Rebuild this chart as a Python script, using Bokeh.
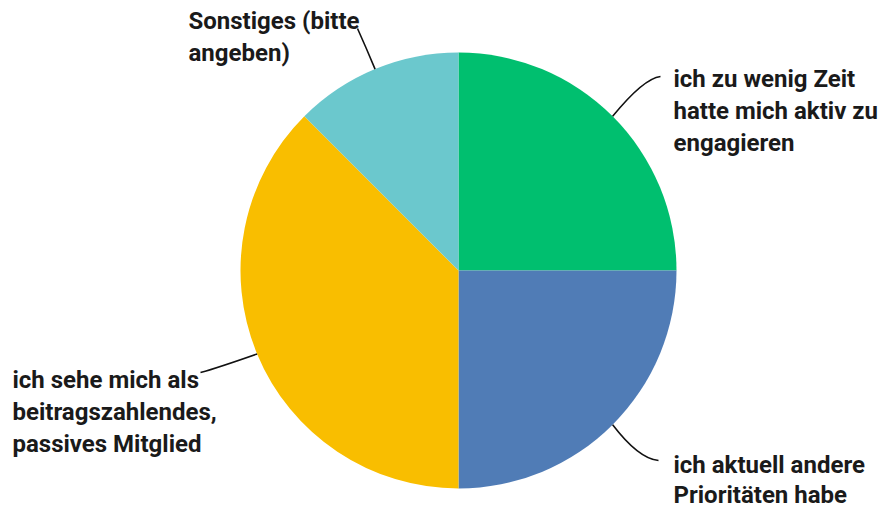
import math
from bokeh.plotting import figure
from bokeh.models import Range1d
from bokeh.embed import file_html
from bokeh.resources import INLINE
from bokeh.core.properties import value

# ---- data ----
categories = [
    "ich zu wenig Zeit\nhatte mich aktiv zu\nengagieren",
    "ich aktuell andere\nPrioritäten habe",
    "ich sehe mich als\nbeitragszahlendes,\npassives Mitglied",
    "Sonstiges (bitte\nangeben)",
]
counts = [2, 2, 3, 1]
colors = ["#00BF6F", "#507CB6", "#F9BE00", "#6BC8CD"]

# ---- layout (screen pixel coordinates) ----
W, H = 884, 510
CX, CY, R = 458, 270, 218
FONT = "Roboto"
FS = 24

def sy(y):  # screen y -> data y (y up)
    return H - y

p = figure(width=W, height=H, output_backend="svg", toolbar_location=None,
           x_range=Range1d(0, W), y_range=Range1d(0, H), min_border=0)
p.axis.visible = False
p.grid.visible = False
p.outline_line_color = None
p.background_fill_color = "white"
p.border_fill_color = "white"

total = sum(counts)
cum = 0.0
starts, ends, mids = [], [], []
for c in counts:
    a0 = cum / total * 2 * math.pi
    cum += c
    a1 = cum / total * 2 * math.pi
    starts.append(math.pi / 2 - a0)
    ends.append(math.pi / 2 - a1)
    mids.append((a0 + a1) / 2)

p.wedge(x=[CX] * len(counts), y=[sy(CY)] * len(counts), radius=R,
        start_angle=starts, end_angle=ends, direction="clock",
        fill_color=colors, line_color=None)

# label placement: (leader end x, leader end y, text x, first line centre y, line step, ctrl x, ctrl y)
label_layout = [
    (660, 76, 673, 78, 32, 643, 78),
    (658, 460, 673, 464, 30, 638, 458),
    (200, 372, 12, 379, 32, 218, 367),
    (357, 28, 188, 20, 32, 366, 48),
]

for i, cat in enumerate(categories):
    m = mids[i]
    ex = CX + R * math.sin(m)
    ey = CY - R * math.cos(m)
    lx, ly, tx, ty, lh, qx, qy = label_layout[i]
    p.quadratic(x0=[ex], y0=[sy(ey)], x1=[lx], y1=[sy(ly)], cx=[qx], cy=[sy(qy)],
                line_color="#111111", line_width=1.6)
    lines = cat.split("\n")
    p.text(x=[tx] * len(lines), y=[sy(ty + lh * k) for k in range(len(lines))],
           text=lines, text_font=value(FONT), text_font_style="bold",
           text_font_size=f"{FS}px", text_color="#1a1a1a",
           text_baseline="middle", text_align="left")

open("out.html", "w").write(file_html(p, INLINE))
